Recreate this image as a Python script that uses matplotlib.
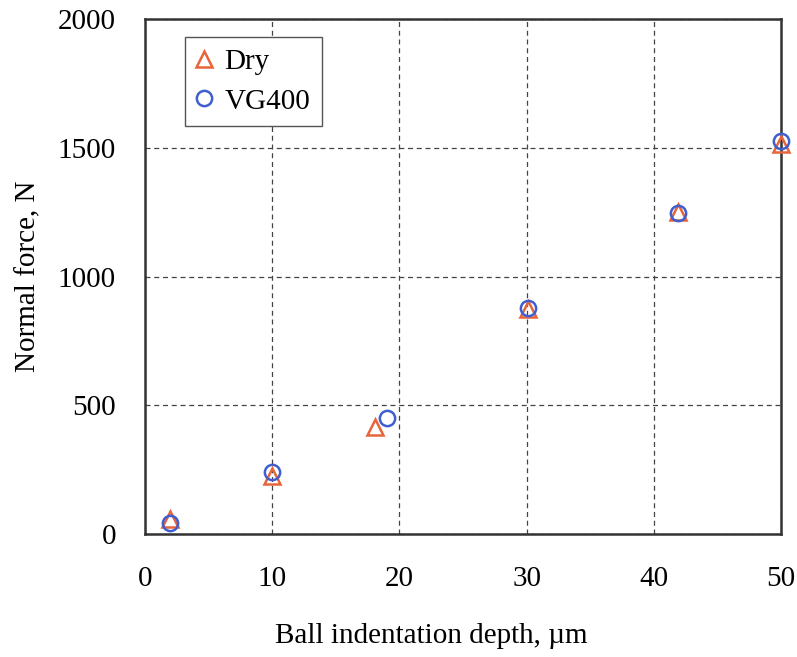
import matplotlib
matplotlib.use("Agg")
import matplotlib.pyplot as plt

dry_x = [2, 10, 18.1, 30.1, 41.9, 50]
dry_y = [58, 225, 417, 875, 1250, 1515]
vg_x = [2, 10, 19.0, 30.1, 41.9, 50]
vg_y = [44, 242, 452, 879, 1245, 1526]
xticks = [0, 10, 20, 30, 40, 50]
yticks = [0, 500, 1000, 1500, 2000]

plt.rcParams['font.family'] = ['Liberation Serif', 'DejaVu Serif']
FS = 21
fig = plt.figure(figsize=(7.97, 6.57), dpi=100)
ax = fig.add_axes([0.182, 0.187, 0.798, 0.784])

ax.plot(dry_x, dry_y, linestyle='none', marker='^', markersize=12, markerfacecolor='none',
        markeredgecolor='#E8643A', markeredgewidth=1.8, label='Dry', clip_on=False, zorder=3)
ax.plot(vg_x, vg_y, linestyle='none', marker='o', markersize=11, markerfacecolor='none',
        markeredgecolor='#3F5FD0', markeredgewidth=1.8, label='VG400', clip_on=False, zorder=4)

ax.set_xlim(0, 50)
ax.set_ylim(0, 2000)
ax.set_xticks(xticks)
ax.set_yticks(yticks)
ax.tick_params(axis='x', length=0, labelsize=FS, pad=23)
ax.tick_params(axis='y', length=0, labelsize=FS, pad=21)
ax.grid(True, linestyle=(0, (4, 3)), color='#444444', linewidth=0.9)
for s in ax.spines.values():
    s.set_linewidth(1.8)
    s.set_color('#333333')

ax.set_xlabel('Ball indentation depth, µm', fontsize=FS, labelpad=22)
ax.xaxis.label.set_x(0.45)
ax.set_ylabel('Normal force, N', fontsize=FS, labelpad=12)

leg = ax.legend(loc='upper left', bbox_to_anchor=(0.063, 0.965), fontsize=FS, fancybox=False,
                edgecolor='#555555', framealpha=1, handlelength=0.5, handletextpad=0.45,
                borderpad=0.4, labelspacing=0.45, borderaxespad=0)
leg.get_frame().set_linewidth(1.0)

fig.savefig('out.png', dpi=100)
